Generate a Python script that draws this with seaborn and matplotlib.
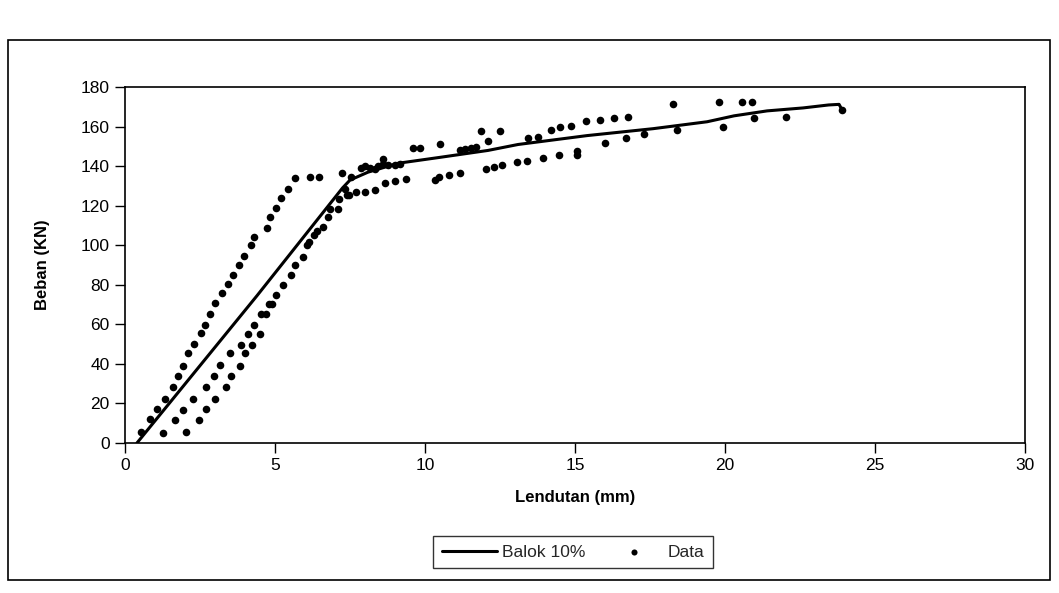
import matplotlib
matplotlib.use("Agg")
import matplotlib.pyplot as plt
import seaborn as sns
import pandas as pd
from matplotlib.patches import Rectangle

# ---- Data ----
x_ticks = [0, 5, 10, 15, 20, 25, 30]
y_ticks = [0, 20, 40, 60, 80, 100, 120, 140, 160, 180]

# Model curve "Balok 10%"
balok_x = [0.4, 4.4, 7.25, 7.5, 8.1, 9.1, 10.5, 12.1, 13.1, 15.4, 17.6, 19.4,
           20.3, 21.4, 22.6, 23.45, 23.8, 23.9]
balok_y = [0.0, 74.5, 129.0, 133.0, 137.0, 141.5, 144.5, 148.0, 151.0, 155.5,
           159.0, 162.5, 165.5, 168.0, 169.5, 171.0, 171.3, 168.5]

# Test data, first loading cycle
data1_x = [0.54, 0.82, 1.07, 1.32, 1.60, 1.77, 1.94, 2.10, 2.30, 2.53, 2.66,
           2.84, 3.00, 3.24, 3.43, 3.60, 3.79, 3.96, 4.20, 4.31, 4.74, 4.85,
           5.03, 5.21, 5.43, 5.68, 6.16, 6.48, 7.23]
data1_y = [5.7, 12.1, 17.1, 22.4, 28.4, 33.8, 39.1, 45.5, 50.2, 55.5, 59.7,
           65.3, 70.6, 75.8, 80.4, 84.9, 90.2, 94.5, 100.2, 104.4, 109.0, 114.4,
           119.1, 124.1, 128.6, 133.8, 134.8, 134.7, 136.6]

# Test data, second cycle (lower branch, then upper branch after the knee)
data2_x = [1.27, 1.68, 1.92, 2.28, 2.69, 2.98, 3.17, 3.51, 3.87, 4.10, 4.31,
           4.54, 4.91,
           7.54, 7.88, 7.99, 8.16, 8.32, 8.44, 8.61, 8.61, 8.77, 9.00, 9.17,
           9.61, 9.82, 10.51, 11.16, 11.33, 11.52, 11.70, 11.88, 12.09, 12.50,
           13.44, 13.78, 14.21, 14.49, 14.88, 15.38, 15.82, 16.30, 16.77,
           18.25, 19.81, 20.56, 20.91]
data2_y = [5.2, 11.8, 16.8, 22.2, 28.5, 34.0, 39.3, 45.5, 49.7, 55.1, 59.8,
           65.1, 70.1,
           134.4, 139.0, 140.2, 139.3, 138.8, 140.1, 143.8, 140.9, 140.4, 140.8,
           141.3, 149.1, 149.0, 151.3, 148.1, 148.6, 149.4, 149.7, 157.8, 152.6,
           157.9, 154.1, 154.7, 158.1, 160.1, 160.6, 162.8, 163.4, 164.3, 164.9,
           171.3, 172.4, 172.6, 172.5]

# Test data, third cycle
data3_x = [2.05, 2.48, 2.70, 3.00, 3.36, 3.53, 3.82, 3.99, 4.24, 4.51, 4.71,
           4.79, 5.04, 5.27, 5.52, 5.67, 5.92, 6.08, 6.14, 6.29, 6.40, 6.59,
           6.78, 6.85, 7.09, 7.12, 7.32, 7.41, 7.48, 7.70, 7.99, 8.32, 8.66,
           8.99, 9.35, 10.32, 10.45, 10.79, 11.18, 12.02, 12.30, 12.57, 13.06,
           13.41, 13.92, 14.46, 15.07, 15.07, 16.00, 16.71, 17.29, 18.41,
           19.92, 20.98, 22.02, 23.90]
data3_y = [5.3, 11.6, 17.0, 22.4, 28.3, 34.1, 39.1, 45.3, 49.6, 55.0, 65.1,
           70.1, 75.1, 80.1, 85.1, 90.2, 94.3, 100.2, 101.8, 105.2, 107.2, 109.3,
           114.4, 118.6, 118.5, 123.6, 128.6, 125.2, 125.5, 126.8, 127.0, 127.9,
           131.6, 132.3, 133.4, 133.2, 134.5, 135.7, 136.8, 138.6, 139.4, 140.5,
           142.2, 142.9, 144.0, 145.5, 147.5, 145.9, 151.8, 154.4, 156.4, 158.1,
           160.1, 164.5, 165.1, 168.2]

# ---- Styling ----
sns.set_theme(style="white")
plt.rcParams['font.family'] = ['Liberation Sans', 'DejaVu Sans']

fig = plt.figure(figsize=(10.59, 5.93), dpi=100)
ax = fig.add_axes([0.118, 0.253, 0.850, 0.600])

balok_df = pd.DataFrame({"x": balok_x, "y": balok_y})
data_df = pd.DataFrame({"x": data1_x + data2_x + data3_x,
                        "y": data1_y + data2_y + data3_y})

sns.lineplot(data=balok_df, x="x", y="y", sort=False, color="black",
             linewidth=2.2, ax=ax, label="Balok 10%")
sns.scatterplot(data=data_df, x="x", y="y", color="black", s=30, marker="o",
                edgecolor="black", linewidth=0, ax=ax, label="Data")

ax.set_xlim(0, 30)
ax.set_ylim(0, 180)
ax.set_xticks(x_ticks)
ax.set_yticks(y_ticks)
ax.tick_params(axis="both", which="major", bottom=True, left=True,
               direction="out", length=7, width=1, colors="black",
               labelsize=12.5, pad=4)
for sp in ax.spines.values():
    sp.set_color("black")
    sp.set_linewidth(1.2)

ax.set_xlabel("Lendutan (mm)", fontweight="bold", fontsize=12, labelpad=12,
              color="black")
ax.set_ylabel("Beban (KN)", fontweight="bold", fontsize=12, labelpad=22,
              color="black")

leg = ax.legend(loc="center", bbox_to_anchor=(0.541, 0.069),
                bbox_transform=fig.transFigure, ncol=2, frameon=True,
                fancybox=False, edgecolor="black", fontsize=12.5,
                handlelength=3.2, columnspacing=1.2, handletextpad=0.3,
                borderpad=0.5, markerscale=0.8)
leg.get_frame().set_linewidth(1.0)

fig.patches.append(Rectangle((8 / 1059, 1 - 580 / 593), (1050 - 8) / 1059,
                             (580 - 40) / 593, transform=fig.transFigure,
                             fill=False, edgecolor="black", linewidth=1.2))

fig.savefig("out.png", dpi=100)
